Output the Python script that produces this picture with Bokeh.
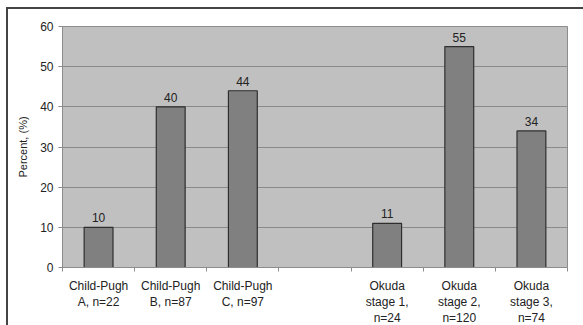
from bokeh.plotting import figure
from bokeh.models import ColumnDataSource, FixedTicker, Range1d
from bokeh.embed import file_html
from bokeh.resources import INLINE
from bokeh.core.properties import value

# Groups along the x axis (one empty slot separates the two staging systems)
categories = ["Child-Pugh\nA, n=22", "Child-Pugh\nB, n=87", "Child-Pugh\nC, n=97", "",
              "Okuda\nstage 1,\nn=24", "Okuda\nstage 2,\nn=120", "Okuda\nstage 3,\nn=74"]
percents = [10, 40, 44, None, 11, 55, 34]
y_ticks = [0, 10, 20, 30, 40, 50, 60]

FONT = "Liberation Sans"

centers = [i + 0.5 for i in range(len(categories))]
bx = [c for c, v in zip(centers, percents) if v is not None]
bv = [v for v in percents if v is not None]
src = ColumnDataSource(dict(x=bx, top=bv, label=[str(v) for v in bv]))

p = figure(frame_width=505, frame_height=241, output_backend="svg", toolbar_location=None,
           x_range=Range1d(0, len(categories)), y_range=Range1d(0, 60),
           min_border_left=54, min_border_right=16, min_border_top=17, min_border_bottom=40)

# dark frame on the top and left of the chart
p.margin = (7, 0, 0, 6)
p.styles = {"border-top": "2px solid #444444", "border-left": "2px solid #444444"}

p.background_fill_color = "#c0c0c0"
p.border_fill_color = "white"
p.outline_line_color = "#8c8c8c"
p.outline_line_width = 1

p.vbar(x="x", top="top", width=0.4, bottom=0, source=src,
       fill_color="#808080", line_color="#2e2e2e", line_width=1.2)

p.text(x="x", y="top", text="label", source=src, text_align="center",
       text_baseline="bottom", y_offset=-5, text_font=value(FONT),
       text_font_size="12px", text_color="#222222")

# y axis
p.yaxis.ticker = FixedTicker(ticks=y_ticks)
p.yaxis.axis_label = "Percent, (%)"
p.yaxis.axis_label_text_font = FONT
p.yaxis.axis_label_text_font_style = "normal"
p.yaxis.axis_label_text_font_size = "11px"
p.yaxis.axis_label_text_color = "#222222"
p.yaxis.axis_label_standoff = 8
p.yaxis.major_label_text_font = FONT
p.yaxis.major_label_text_font_size = "12px"
p.yaxis.major_label_text_color = "#222222"
p.yaxis.major_label_standoff = 5
p.yaxis.axis_line_color = "#8c8c8c"
p.yaxis.major_tick_line_color = "#8c8c8c"
p.yaxis.major_tick_out = 4
p.yaxis.major_tick_in = 0
p.yaxis.minor_tick_line_color = None

# x axis: labels at the centres, tick marks at the slot boundaries
p.xaxis.ticker = FixedTicker(ticks=centers, minor_ticks=list(range(len(categories) + 1)))
p.xaxis.major_label_overrides = {c: lab for c, lab in zip(centers, categories)}
p.xaxis.major_label_text_font = FONT
p.xaxis.major_label_text_font_size = "12px"
p.xaxis.major_label_text_color = "#222222"
p.xaxis.major_label_text_line_height = 1.15
p.xaxis.major_label_standoff = 5
p.xaxis.axis_line_color = "#8c8c8c"
p.xaxis.major_tick_line_color = None
p.xaxis.minor_tick_line_color = "#8c8c8c"
p.xaxis.minor_tick_out = 4
p.xaxis.minor_tick_in = 0

p.xgrid.grid_line_color = None
p.ygrid.grid_line_color = "#8a8a8a"
p.ygrid.grid_line_width = 1

html = file_html(p, INLINE)
# the chart runs past the bottom edge of the page; keep the page from scrolling
html = html.replace("<head>", "<head><style>html, body { overflow: hidden; margin: 0; }</style>", 1)
open("out.html", "w").write(html)
